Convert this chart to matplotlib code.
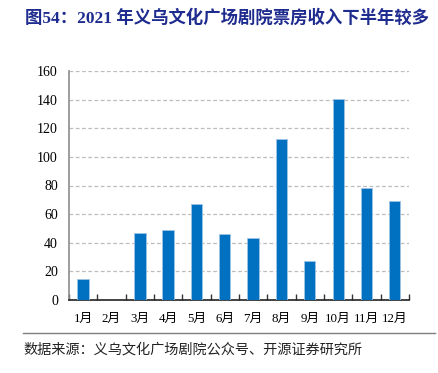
import matplotlib
matplotlib.use("Agg")
import matplotlib.pyplot as plt
from matplotlib.lines import Line2D
import numpy as np

months = ["1月", "2月", "3月", "4月", "5月", "6月", "7月", "8月", "9月", "10月", "11月", "12月"]
revenue = [15, 0, 47, 49, 67, 46, 43, 112.5, 27, 140.5, 78, 69]
yticks = [0, 20, 40, 60, 80, 100, 120, 140, 160]

title = "图54：2021 年义乌文化广场剧院票房收入下半年较多"
source = "数据来源：义乌文化广场剧院公众号、开源证券研究所"

fams = ["Liberation Serif", "Noto Sans CJK SC"]
plt.rcParams["font.family"] = fams

fig = plt.figure(figsize=(4.38, 3.73), dpi=100)
ax = fig.add_axes([69/438, 1-300/373, 340/438, 229/373])

x = np.arange(len(months))
ax.bar(x, revenue, width=0.4, color="#0070C0", edgecolor="#9DC3E6", linewidth=0.6, zorder=3)
ax.set_xlim(-0.5, len(months)-0.5)
ax.set_ylim(0, 160)
ax.set_yticks(yticks)
ax.set_yticklabels([str(v) for v in yticks], fontsize=10)
ax.yaxis.grid(True, linestyle=(0, (3, 2)), color="#BDBDBD", linewidth=0.9, zorder=0)
ax.set_xticks(x)
ax.set_xticklabels(months, fontsize=9.3)
ax.tick_params(axis="x", length=0, pad=9)
ax.tick_params(axis="y", length=0, pad=8)
ax.set_xticks(np.arange(-0.5, len(months)), minor=True)
ax.tick_params(axis="x", which="minor", direction="in", length=4, width=1, color="#333333")
for s in ["top", "right"]:
    ax.spines[s].set_visible(False)
ax.spines["left"].set_color("#8C8C8C")
ax.spines["left"].set_linewidth(1.2)
ax.spines["bottom"].set_color("#222222")
ax.spines["bottom"].set_linewidth(1.2)

fig.text(25/438, 1-18/373, title, fontsize=12.5, fontweight="bold", color="#1F2C8F",
         va="center", ha="left", family=fams)
fig.add_artist(Line2D([23/438, 435/438], [1-333/373, 1-333/373], color="#7F7F7F", linewidth=1.0,
                      transform=fig.transFigure))
fig.text(23/438, 1-350/373, source, fontsize=10.2, color="#222222", va="center", ha="left", family=fams)

fig.savefig("out.png", dpi=100)
